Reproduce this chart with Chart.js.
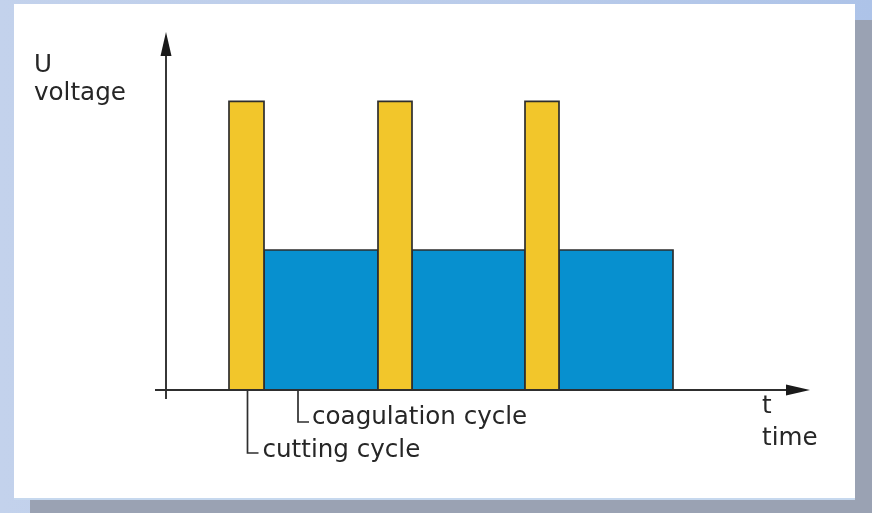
<!DOCTYPE html>
<html>
<head>
<meta charset="utf-8">
<script src="https://cdn.jsdelivr.net/npm/chart.js@4"></script>
<style>
    html, body { margin: 0; padding: 0; }
    body {
        width: 872px; height: 513px; overflow: hidden; position: relative;
        background: linear-gradient(90deg, #c3d2ec 0%, #b9cbea 60%, #adc3e8 100%);
    }
    .shadow { position: absolute; left: 30px; top: 20px; right: 0; bottom: 0; background: #9aa2b3; }
    .panel { position: absolute; left: 14px; top: 4px; width: 841px; height: 494px; background: #fff; border-bottom: 2px solid #c6d8ee; }
    #chart { position: absolute; left: 0; top: 0; }
</style>
</head>
<body>
<div class="shadow"></div>
<div class="panel"></div>
<canvas id="chart" width="872" height="513"></canvas>
<script>
// Pulse timing (time units) and voltage levels
const cutStart = [6.3, 21.2, 35.9];
const cutEnd = [9.8, 24.6, 39.3];
const coagStart = [9.8, 24.6, 39.3];
const coagEnd = [21.2, 35.9, 50.7];
const cutVoltage = 10;
const coagVoltage = 4.85;
const timeMax = 64.4;
const voltageMax = 12.4;

const INK = '#2e2e2e';
const FONT = '24.6px "DejaVu Sans"';

function pulse(start, end, level) {
    return [
        { x: start, y: 0 },
        { x: start, y: level },
        { x: end, y: level },
        { x: end, y: 0 }
    ];
}

function pulseDataset(start, end, level, color, order) {
    return {
        data: pulse(start, end, level),
        borderColor: INK,
        borderWidth: 1.7,
        backgroundColor: color,
        fill: 'origin',
        pointRadius: 0,
        tension: 0,
        order: order
    };
}

const datasets = [];
cutStart.forEach((s, i) => datasets.push(pulseDataset(s, cutEnd[i], cutVoltage, '#f2c62b', 0)));
coagStart.forEach((s, i) => datasets.push(pulseDataset(s, coagEnd[i], coagVoltage, '#0790cf', 1)));

// Axes with arrowheads, plus axis captions and the cycle callouts
const axesPlugin = {
    id: 'axesPlugin',
    afterDatasetsDraw(chart) {
        const ctx = chart.ctx;
        const xs = chart.scales.x;
        const ys = chart.scales.y;
        const x0 = xs.getPixelForValue(0);
        const y0 = ys.getPixelForValue(0);
        const xTip = xs.getPixelForValue(timeMax);
        const yTip = ys.getPixelForValue(voltageMax);

        ctx.save();
        ctx.strokeStyle = INK;
        ctx.fillStyle = '#1a1a1a';
        ctx.lineWidth = 1.9;

        ctx.beginPath();
        ctx.moveTo(x0, y0 + 9);
        ctx.lineTo(x0, yTip + 20);
        ctx.moveTo(x0 - 11, y0);
        ctx.lineTo(xTip - 20, y0);
        ctx.stroke();

        ctx.beginPath();
        ctx.moveTo(x0, yTip);
        ctx.lineTo(x0 - 5.5, yTip + 24);
        ctx.lineTo(x0 + 5.5, yTip + 24);
        ctx.closePath();
        ctx.fill();

        ctx.beginPath();
        ctx.moveTo(xTip, y0);
        ctx.lineTo(xTip - 24, y0 - 5.5);
        ctx.lineTo(xTip - 24, y0 + 5.5);
        ctx.closePath();
        ctx.fill();

        // callout leaders
        const cutX = xs.getPixelForValue((cutStart[0] + cutEnd[0]) / 2) + 1;
        const coagX = xs.getPixelForValue(13.2);
        ctx.lineWidth = 1.7;
        ctx.beginPath();
        ctx.moveTo(cutX, y0);
        ctx.lineTo(cutX, 453);
        ctx.lineTo(cutX + 11, 453);
        ctx.moveTo(coagX, y0);
        ctx.lineTo(coagX, 422);
        ctx.lineTo(coagX + 11, 422);
        ctx.stroke();

        ctx.fillStyle = '#262626';
        ctx.font = FONT;
        ctx.textAlign = 'left';
        ctx.textBaseline = 'alphabetic';
        ctx.fillText('U', 34, 72);
        ctx.fillText('voltage', 34, 100);
        ctx.fillText('t', 762, 413);
        ctx.fillText('time', 762, 445);
        ctx.fillText('coagulation cycle', coagX + 14, 424);
        ctx.fillText('cutting cycle', cutX + 15, 457);
        ctx.restore();
    }
};

new Chart(document.getElementById('chart'), {
    type: 'line',
    data: { datasets: datasets },
    options: {
        responsive: false,
        animation: false,
        layout: { padding: { left: 166, right: 62, top: 32, bottom: 123 } },
        plugins: { legend: { display: false }, tooltip: { enabled: false } },
        scales: {
            x: { type: 'linear', min: 0, max: timeMax, display: false },
            y: { min: 0, max: voltageMax, display: false }
        }
    },
    plugins: [axesPlugin]
});
</script>
</body>
</html>
